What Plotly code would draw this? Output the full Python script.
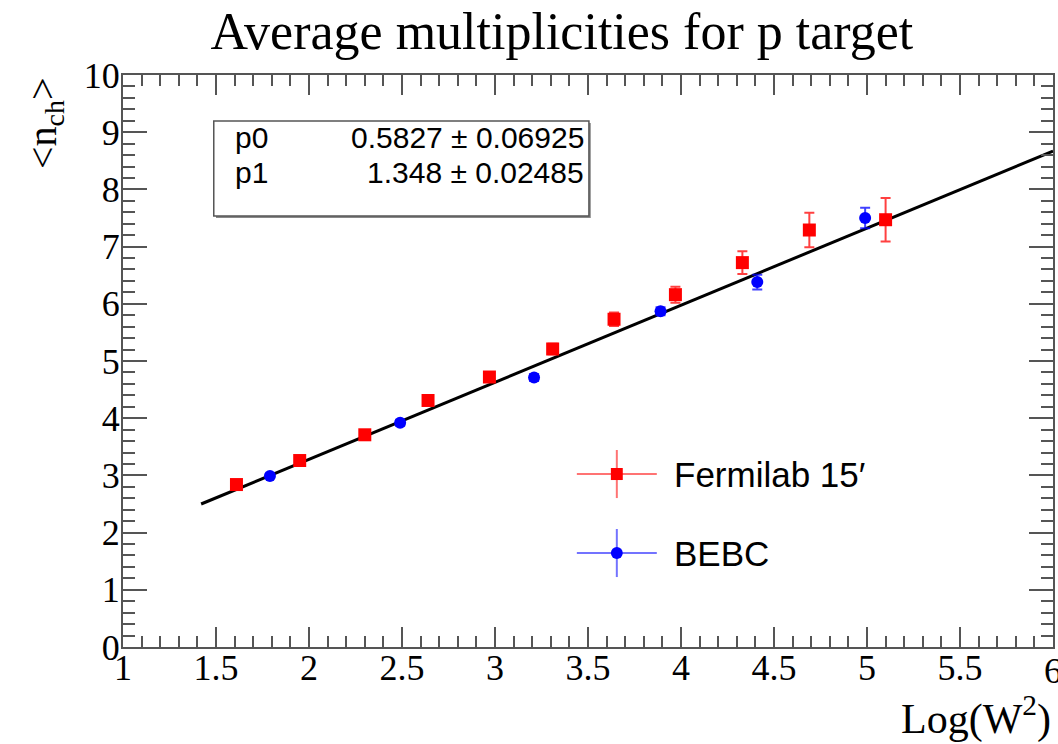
import plotly.graph_objects as go

# Fermilab 15' (red squares)
fnal_x = [1.61, 1.95, 2.30, 2.64, 2.97, 3.31, 3.64, 3.97, 4.33, 4.69, 5.10]
fnal_y = [2.84, 3.26, 3.71, 4.31, 4.72, 5.21, 5.73, 6.16, 6.72, 7.29, 7.47]
fnal_err = [0.06, 0.06, 0.06, 0.07, 0.08, 0.09, 0.12, 0.14, 0.20, 0.30, 0.38]

# BEBC (blue circles)
bebc_x = [1.79, 2.49, 3.21, 3.89, 4.41, 4.99]
bebc_y = [2.99, 3.92, 4.71, 5.87, 6.38, 7.50]
bebc_err = [0.04, 0.05, 0.06, 0.07, 0.13, 0.18]

# linear fit pol1, end points
fit_x = [1.42, 6.0]
fit_y = [2.50, 8.67]
fit_pars = [("p0", "0.5827 \u00b1 0.06925"), ("p1", "1.348 \u00b1 0.02485")]

SERIF = "Liberation Serif, Times New Roman, serif"
SANS = "Liberation Sans, Arial, Helvetica, sans-serif"

fig = go.Figure()

fig.add_trace(go.Scatter(
    x=fit_x, y=fit_y, mode="lines",
    line=dict(color="black", width=3), showlegend=False, hoverinfo="skip"))

fig.add_trace(go.Scatter(
    x=fnal_x, y=fnal_y, mode="markers", name="Fermilab 15\u2032",
    marker=dict(symbol="square", size=13, color="#ff0000"),
    error_y=dict(type="data", array=fnal_err, color="rgba(255,0,0,0.75)",
                 thickness=2, width=5),
    showlegend=False))

fig.add_trace(go.Scatter(
    x=bebc_x, y=bebc_y, mode="markers", name="BEBC",
    marker=dict(symbol="circle", size=12, color="#0000ff"),
    error_y=dict(type="data", array=bebc_err, color="rgba(0,0,255,0.75)",
                 thickness=2, width=5),
    showlegend=False))

axis_common = dict(
    showline=True, linecolor="#555555", linewidth=2, mirror="ticks",
    ticks="inside", tickcolor="#555555", tickwidth=2,
    showgrid=False, zeroline=False,
    tickfont=dict(family=SERIF, size=36, color="black"),
)

fig.update_xaxes(range=[1, 6], dtick=0.5, tick0=1, ticklen=20,
                 ticklabelstandoff=-12,
                 minor=dict(dtick=0.1, ticklen=11, ticks="inside",
                            tickcolor="#555555", tickwidth=2),
                 **axis_common)
fig.update_yaxes(range=[0, 10], dtick=1, tick0=0, ticklen=24,
                 ticklabelstandoff=-6,
                 minor=dict(dtick=0.2, ticklen=12, ticks="inside",
                            tickcolor="#555555", tickwidth=2),
                 **axis_common)

shapes = []
annotations = []

# stats box with thin shadow
shapes.append(dict(type="rect", xref="paper", yref="paper",
                   x0=0.100, x1=0.503, y0=0.750, y1=0.916,
                   line=dict(width=0), fillcolor="#888888", layer="above"))
shapes.append(dict(type="rect", xref="paper", yref="paper",
                   x0=0.0976, x1=0.501, y0=0.7535, y1=0.9196,
                   line=dict(color="#555555", width=1.5), fillcolor="white",
                   layer="above"))
for i, (name, val) in enumerate(fit_pars):
    yy = 0.890 - i * 0.060
    annotations.append(dict(xref="paper", yref="paper", x=0.118, y=yy,
                            text=name, showarrow=False, xanchor="left",
                            yanchor="middle",
                            font=dict(family=SANS, size=30, color="black")))
    annotations.append(dict(xref="paper", yref="paper", x=0.498, y=yy,
                            text=val, showarrow=False, xanchor="right",
                            yanchor="middle",
                            font=dict(family=SANS, size=30, color="black")))

# legend drawn by hand (ROOT style, with error-bar crosses)
leg = [("Fermilab 15\u2032", 0.3024, "rgba(255,0,0,0.55)", "#ff0000", "rect"),
       ("BEBC", 0.1643, "rgba(0,0,255,0.55)", "#0000ff", "circle")]
cx = 0.531
for label, cy, lc, mc, kind in leg:
    shapes.append(dict(type="line", xref="paper", yref="paper",
                       x0=cx - 0.043, x1=cx + 0.043, y0=cy, y1=cy,
                       line=dict(color=lc, width=2)))
    shapes.append(dict(type="line", xref="paper", yref="paper",
                       x0=cx, x1=cx, y0=cy - 0.042, y1=cy + 0.042,
                       line=dict(color=lc, width=2)))
    shapes.append(dict(type=kind, xref="paper", yref="paper",
                       x0=cx - 0.0064, x1=cx + 0.0064,
                       y0=cy - 0.0105, y1=cy + 0.0105,
                       line=dict(width=0), fillcolor=mc))
    annotations.append(dict(xref="paper", yref="paper", x=0.590, y=cy,
                            text=label, showarrow=False, xanchor="left",
                            yanchor="middle",
                            font=dict(family=SANS, size=35, color="black")))

# last x tick label, cut at the right edge as in the original
annotations.append(dict(xref="x", yref="paper", x=6, y=0, yshift=-24,
                        text="6", showarrow=False, xanchor="center",
                        yanchor="middle",
                        font=dict(family=SERIF, size=36, color="black")))

# axis titles (ROOT style: at the end of the axes)
annotations.append(dict(xref="paper", yref="paper", x=1.0, y=0, yshift=-69,
                        text="Log(W<sup>2</sup>)", showarrow=False,
                        xanchor="right", yanchor="middle",
                        font=dict(family=SERIF, size=42, color="black")))
annotations.append(dict(xref="paper", yref="paper", x=0, xshift=-78, y=1.0,
                        text="&lt;n<sub>ch</sub>&gt;", showarrow=False,
                        textangle=-90, xanchor="center", yanchor="top",
                        font=dict(family=SERIF, size=40, color="black")))

fig.update_layout(
    width=1058, height=744,
    plot_bgcolor="white", paper_bgcolor="white",
    margin=dict(l=123, r=3, t=75, b=97),
    title=dict(text="Average multiplicities for p target",
               x=0.531, xanchor="center", y=0.958, yanchor="middle",
               font=dict(family=SERIF, size=52, color="black")),
    shapes=shapes, annotations=annotations,
    showlegend=False,
)

fig.write_html("out.html", config={"displayModeBar": False},
               post_script="document.body.style.margin='0';")
